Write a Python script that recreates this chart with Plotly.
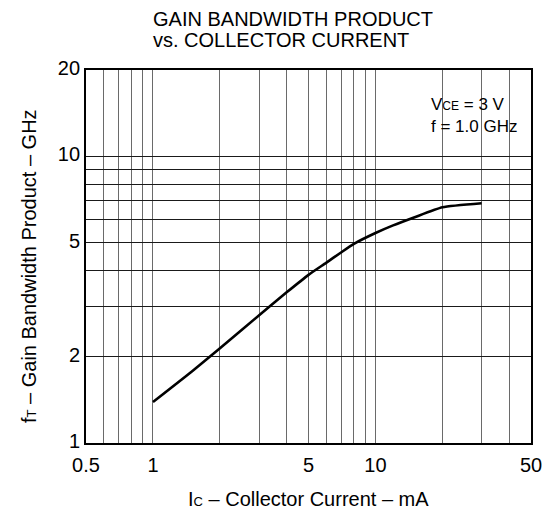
import plotly.graph_objects as go
import math

# Data
current_ma = [1, 1.5, 2, 3, 4, 5, 6, 7, 8, 10, 12, 15, 20, 30]
ft_ghz = [1.39, 1.78, 2.14, 2.79, 3.36, 3.86, 4.25, 4.62, 4.95, 5.40, 5.74, 6.13, 6.64, 6.86]

x_grid = [0.5, 0.6, 0.7, 0.8, 0.9, 1, 2, 3, 4, 5, 6, 7, 8, 9, 10, 20, 30, 40, 50]
x_labels = {0.5: "0.5", 1: "1", 5: "5", 10: "10", 50: "50"}
y_grid = [1, 2, 3, 4, 5, 6, 7, 8, 9, 10, 20]
y_labels = {1: "1", 2: "2", 5: "5", 10: "10", 20: "20"}

FONT = "Liberation Sans, Arial, sans-serif"

fig = go.Figure()
fig.add_trace(go.Scatter(
    x=current_ma, y=ft_ghz, mode="lines",
    line=dict(color="black", width=2.6, shape="spline", smoothing=0.5),
    showlegend=False, hoverinfo="skip",
))

fig.update_layout(
    width=543, height=510,
    margin=dict(l=86, r=12, t=70, b=67),
    paper_bgcolor="white", plot_bgcolor="white",
    font=dict(family=FONT, size=20, color="black"),
    xaxis=dict(
        type="log", range=[math.log10(0.5), math.log10(50)],
        tickmode="array", tickvals=x_grid,
        ticktext=[x_labels.get(v, "") for v in x_grid],
        showgrid=True, gridcolor="#6a6a6a", gridwidth=1,
        showline=True, linecolor="black", linewidth=1.8, mirror=True,
        ticks="", zeroline=False, tickfont=dict(size=20),
        ticklabelstandoff=3,
        automargin=False,
    ),
    yaxis=dict(
        type="log", range=[0, math.log10(20)],
        tickmode="array", tickvals=y_grid,
        ticktext=[y_labels.get(v, "") for v in y_grid],
        showgrid=True, gridcolor="#1a1a1a", gridwidth=1,
        showline=True, linecolor="black", linewidth=1.8, mirror=True,
        ticks="", zeroline=False, tickfont=dict(size=20),
        ticklabelshift=-2,
        automargin=False,
    ),
    annotations=[
        dict(text="GAIN BANDWIDTH PRODUCT", xref="paper", yref="paper",
             x=0.145, y=1.137, xanchor="left", yanchor="middle",
             showarrow=False, font=dict(size=20)),
        dict(text="vs. COLLECTOR CURRENT", xref="paper", yref="paper",
             x=0.145, y=1.080, xanchor="left", yanchor="middle",
             showarrow=False, font=dict(size=20)),
        dict(text="V<span style='font-size:12px'>CE</span> = 3 V<br>f = 1.0 GHz",
             xref="paper", yref="paper", x=0.77, y=0.877,
             xanchor="left", yanchor="middle", align="left",
             showarrow=False, font=dict(size=17)),
        dict(text="I<span style='font-size:13px'>C</span> – Collector Current – mA",
             xref="paper", yref="paper", x=0.5, y=-0.150,
             xanchor="center", yanchor="middle", showarrow=False,
             font=dict(size=20)),
        dict(text="f<span style='font-size:13px'>T</span> – Gain Bandwidth Product – GHz",
             xref="paper", yref="paper", x=-0.128, y=0.4745,
             xanchor="center", yanchor="middle", textangle=-90,
             showarrow=False, font=dict(size=20)),
    ],
)

fig.write_html("out.html")
